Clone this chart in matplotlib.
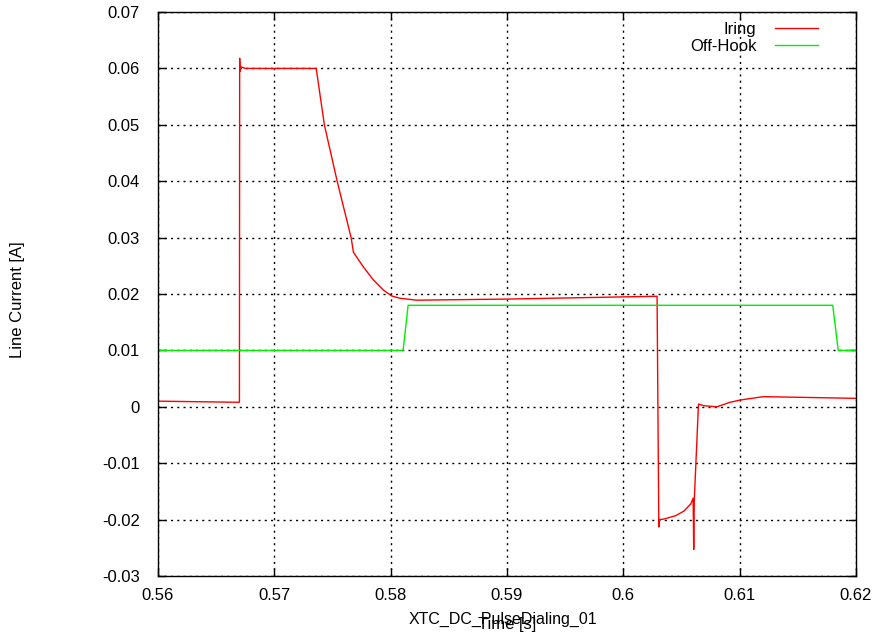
import matplotlib
matplotlib.use("Agg")
import matplotlib.pyplot as plt

# Iring trace (time [s], current [A])
t_iring = [0.5600, 0.5670, 0.56702, 0.56706, 0.5671, 0.5675, 0.5700, 0.5736,
           0.5743, 0.5754, 0.5766, 0.5768, 0.57765, 0.57851, 0.57937, 0.58009,
           0.58081, 0.58224, 0.5900, 0.6029, 0.60305, 0.6031, 0.6035, 0.6045,
           0.6052, 0.6058, 0.6060, 0.60605, 0.6061, 0.60646, 0.60689, 0.60804,
           0.60918, 0.61004, 0.61205, 0.6200]
i_iring = [0.0010, 0.0008, 0.0618, 0.0595, 0.0603, 0.0600, 0.0600, 0.0600,
           0.0500, 0.0400, 0.0300, 0.0274, 0.0248, 0.0225, 0.0207, 0.01965,
           0.01924, 0.0189, 0.0191, 0.0196, -0.0213, -0.0200, -0.0199, -0.0193,
           -0.0185, -0.0172, -0.0162, -0.0253, -0.0165, 0.0005, 0.0002, 0.0000,
           0.0008, 0.0012, 0.0018, 0.0015]

# Off-Hook trace
t_hook = [0.5600, 0.58107, 0.5815, 0.6180, 0.61847, 0.6200]
i_hook = [0.010, 0.010, 0.018, 0.018, 0.010, 0.010]

x_ticks = [0.56, 0.57, 0.58, 0.59, 0.60, 0.61, 0.62]
x_labels = ["0.56", "0.57", "0.58", "0.59", "0.6", "0.61", "0.62"]
y_ticks = [-0.03, -0.02, -0.01, 0.0, 0.01, 0.02, 0.03, 0.04, 0.05, 0.06, 0.07]
y_labels = ["-0.03", "-0.02", "-0.01", "0", "0.01", "0.02", "0.03", "0.04",
            "0.05", "0.06", "0.07"]

plt.rcParams["font.family"] = ["Liberation Sans", "DejaVu Sans"]

fig = plt.figure(figsize=(8.91, 6.37), dpi=100)
ax = fig.add_axes([158 / 891, 1 - 576 / 637, 698 / 891, 564 / 637])

ax.plot(t_iring, i_iring, color="#ff0000", lw=1.0, label="Iring")
ax.plot(t_hook, i_hook, color="#00ee00", lw=1.0, label="Off-Hook")

ax.set_xlim(0.56, 0.62)
ax.set_ylim(-0.03, 0.07)
ax.set_xticks(x_ticks)
ax.set_xticklabels(x_labels)
ax.set_yticks(y_ticks)
ax.set_yticklabels(y_labels)
ax.tick_params(direction="in", length=6, width=1, top=True, right=True,
               labelsize=12, colors="black")
ax.tick_params(axis="y", pad=13)
ax.tick_params(axis="x", pad=9)
ax.grid(True, color="black", linestyle=(0, (1.5, 3)), linewidth=1)
for s in ax.spines.values():
    s.set_linewidth(1)

fig.text(18 / 891, 1 - 300 / 637, "Line Current [A]", rotation=90,
         ha="center", va="center", fontsize=12)
fig.text(507 / 891, 1 - 624 / 637, "Time [s]", ha="center", va="center", fontsize=12)
fig.text(503 / 891, 1 - 619 / 637, "XTC_DC_PulseDialing_01", ha="center",
         va="center", fontsize=11.5)

ax.legend(loc="upper right", bbox_to_anchor=(818 / 891, 1 - 22 / 637),
          bbox_transform=fig.transFigure, frameon=False, markerfirst=False,
          fontsize=12, handlelength=2.6, handletextpad=1.1, labelspacing=0.1,
          borderaxespad=0, borderpad=0)

fig.savefig("out.png", dpi=100)
